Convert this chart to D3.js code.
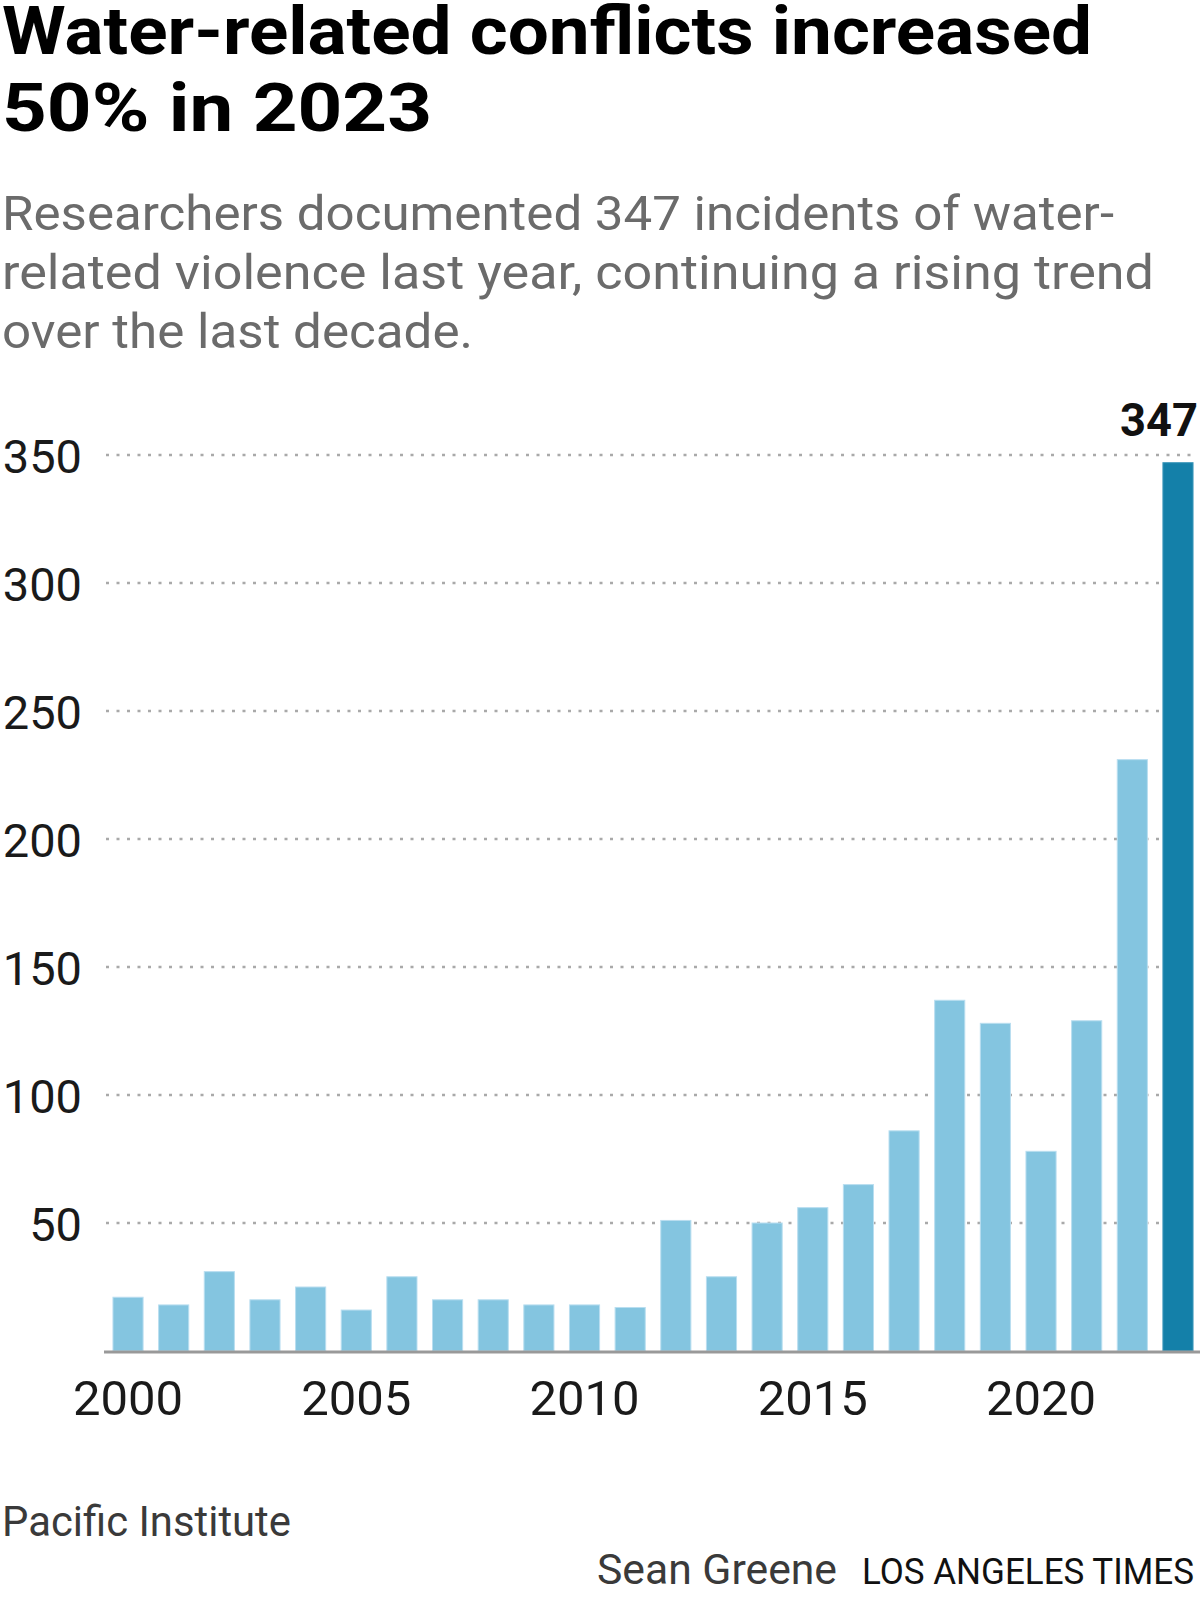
<!DOCTYPE html>
<html>
<head>
<meta charset="utf-8">
<script src="https://cdn.jsdelivr.net/npm/d3@7"></script>
<style>
  html, body { margin: 0; padding: 0; background: #fff; }
  svg { display: block; font-family: Roboto, "Noto Sans", sans-serif; }
</style>
</head>
<body>
<svg id="chart" width="1200" height="1603"></svg>
<script>
const years = ["2000","2001","2002","2003","2004","2005","2006","2007","2008","2009","2010","2011",
               "2012","2013","2014","2015","2016","2017","2018","2019","2020","2021","2022","2023"];
const incidents = [21, 18, 31, 20, 25, 16, 29, 20, 20, 18, 18, 17,
                   51, 29, 50, 56, 65, 86, 137, 128, 78, 129, 231, 347];
const yTicks = [50, 100, 150, 200, 250, 300, 350];
const xTicks = ["2000", "2005", "2010", "2015", "2020"];
const titleLines = ["Water-related conflicts increased", "50% in 2023"];
const subtitleLines = ["Researchers documented 347 incidents of water-",
                       "related violence last year, continuing a rising trend",
                       "over the last decade."];
const sourceText = "Pacific Institute";
const bylineText = "Sean Greene";
const outletText = "LOS ANGELES TIMES";
const highlightYear = "2023";

const svg = d3.select("#chart");

// Title
const titleY = [54, 131], titleW = [1090, 430];
titleLines.forEach((t, i) => {
  svg.append("text").attr("x", 2).attr("y", titleY[i])
    .attr("font-size", 66).attr("font-weight", 700).attr("fill", "#000")
    .attr("textLength", titleW[i]).attr("lengthAdjust", "spacingAndGlyphs")
    .text(t);
});

// Subtitle
const subY = [230, 289, 348], subW = [1112, 1152, 471];
subtitleLines.forEach((t, i) => {
  svg.append("text").attr("x", 2).attr("y", subY[i])
    .attr("font-size", 49).attr("font-weight", 400).attr("fill", "#6b6b6b")
    .attr("textLength", subW[i]).attr("lengthAdjust", "spacingAndGlyphs")
    .text(t);
});

// Scales
const x = d3.scaleBand().domain(years).range([105.2, 1200.8])
  .paddingInner(0.34).paddingOuter(0.17);
const y = d3.scaleLinear().domain([0, 350]).range([1351, 455]);

// Gridlines
svg.append("g").selectAll("line").data(yTicks).join("line")
  .attr("x1", 106).attr("x2", 1196)
  .attr("y1", d => y(d)).attr("y2", d => y(d))
  .attr("stroke", "#a9a9a9").attr("stroke-width", 2.6)
  .attr("stroke-dasharray", "3 7.5");

// Y axis labels
const yAxis = svg.append("g").attr("transform", "translate(82,0)")
  .call(d3.axisLeft(y).tickValues(yTicks).tickSize(0).tickPadding(0));
yAxis.select(".domain").remove();
yAxis.selectAll("text").attr("font-size", 47).attr("font-family", "Roboto, sans-serif")
  .attr("fill", "#1a1a1a").attr("dy", "0.37em").attr("x", 0);

// Bars
svg.append("g").selectAll("rect").data(years.map((yr, i) => ({yr, v: incidents[i]})))
  .join("rect")
  .attr("x", d => x(d.yr)).attr("width", x.bandwidth())
  .attr("y", d => y(d.v)).attr("height", d => y(0) - y(d.v))
  .attr("fill", d => d.yr === highlightYear ? "#1480a9" : "#84c5e0")
  .attr("stroke", d => d.yr === highlightYear ? "#3f98bb" : "#b9def0")
  .attr("stroke-width", 1);

// Baseline axis
svg.append("line").attr("x1", 104).attr("x2", 1200)
  .attr("y1", y(0) + 1).attr("y2", y(0) + 1)
  .attr("stroke", "#999").attr("stroke-width", 3);

// X axis labels
const xAxis = svg.append("g").attr("transform", `translate(0,${y(0)})`)
  .call(d3.axisBottom(x).tickValues(xTicks).tickSize(0).tickPadding(0));
xAxis.select(".domain").remove();
xAxis.selectAll("text").attr("font-size", 49).attr("font-family", "Roboto, sans-serif")
  .attr("fill", "#1a1a1a").attr("y", 64).attr("dy", 0);

// Value label on last bar
const lastIdx = years.indexOf(highlightYear);
svg.append("text")
  .attr("x", x(highlightYear) + x.bandwidth() + 5)
  .attr("y", y(incidents[lastIdx]) - 27)
  .attr("text-anchor", "end").attr("font-size", 47).attr("font-weight", 700)
  .attr("fill", "#111")
  .attr("textLength", 78).attr("lengthAdjust", "spacingAndGlyphs")
  .text(incidents[lastIdx]);

// Source & credits
svg.append("text").attr("x", 2).attr("y", 1536)
  .attr("font-size", 43).attr("fill", "#3a3a3a")
  .attr("textLength", 289).attr("lengthAdjust", "spacingAndGlyphs")
  .text(sourceText);
svg.append("text").attr("x", 597).attr("y", 1584)
  .attr("font-size", 43).attr("fill", "#3a3a3a")
  .attr("textLength", 240).attr("lengthAdjust", "spacingAndGlyphs")
  .text(bylineText);
svg.append("text").attr("x", 862).attr("y", 1584)
  .attr("font-size", 36).attr("fill", "#111")
  .attr("textLength", 332).attr("lengthAdjust", "spacingAndGlyphs")
  .text(outletText);
</script>
</body>
</html>
